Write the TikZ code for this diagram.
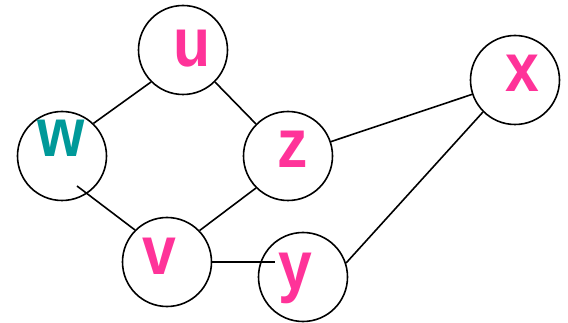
\documentclass[tikz,border=0pt]{standalone}
\usepackage{fontspec}
\setmainfont{Liberation Sans}
\usepackage{tikz}
\usetikzlibrary{calc}
\definecolor{vpink}{RGB}{255,51,153}
\definecolor{vteal}{RGB}{0,153,153}
\newcommand{\vname}[1]{\scalebox{0.88}[1]{#1}}
\tikzstyle{vertex}=[solid,circle,black,draw,line width=1.6pt,minimum size=89pt,inner sep=0pt]
\tikzstyle{letter}=[anchor=base,inner sep=0pt,font=\fontsize{69}{69}\selectfont\bfseries,vpink]
\tikzstyle{edge} = [solid,black,draw,line width=1.6pt,-]

\begin{document}
\begin{tikzpicture}[x=1pt,y=-1pt]
	\useasboundingbox (0,0) rectangle (568,323);
	\node[vertex] (u) at (183,50) {};
	\node[vertex] (w) at (62,156) {};
	\node[vertex] (z) at (288,156) {};
	\node[vertex] (v) at (167,262) {};
	\node[vertex] (y) at (303,277) {};
	\node[vertex] (x) at (515,80) {};
	\node[letter] (lu) at (192,67) {\vname{u}};
	\node[letter,vteal] (lw) at (61,157) {\vname{w}};
	\node[letter] (lz) at (293,168) {\vname{z}};
	\node[letter] (lv) at (159,275) {\vname{v}};
	\node[letter] (ly) at (295,290) {\vname{y}};
	\node[letter] (lx) at (522,92) {\vname{x}};
	\path[edge] (w.46) -- (u.225);
	\path[edge] (u.-45) -- (z.135);
	\path[edge] (z.225) -- (v.44);
	\path[edge] ($(w)+(15,30)$) -- (v.135);
	\path[edge] (v.east) -- ($(y.west |- v.east)+(17,0)$);
	\path[edge] (z) -- (x);
	\path[edge] (y.18) -- (x.225);
\end{tikzpicture}
\end{document}
